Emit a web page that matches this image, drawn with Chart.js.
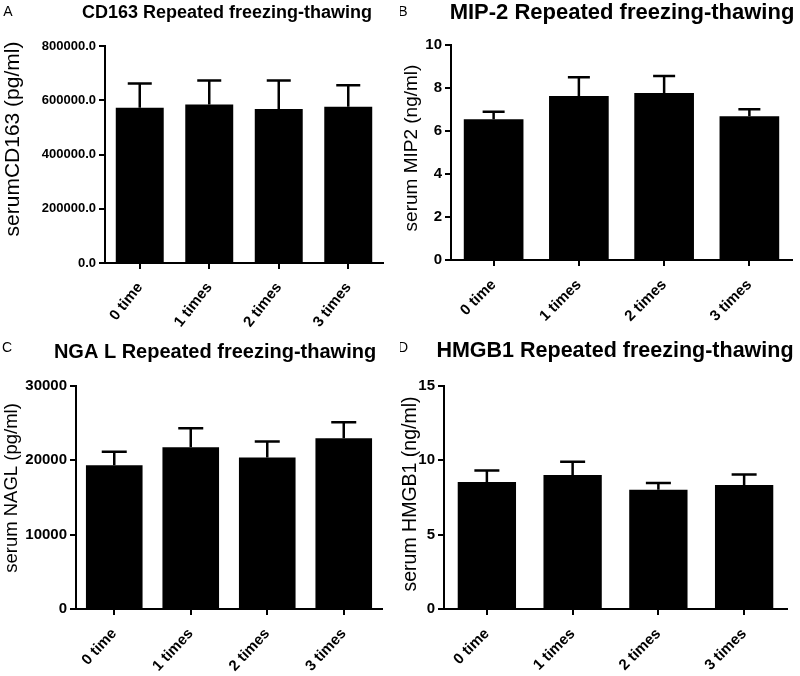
<!DOCTYPE html>
<html>
<head>
<meta charset="utf-8">
<title>Repeated freezing-thawing</title>
<script src="https://cdn.jsdelivr.net/npm/chart.js@4.4.1/dist/chart.umd.min.js"></script>
<style>
  body { margin: 0; background: #fff; }
  #wrap { position: relative; width: 800px; height: 676px; }
  .panel { position: absolute; width: 400px; height: 338px; }
</style>
</head>
<body>
<div id="wrap">
  <div class="panel" style="left:0;top:0"><canvas id="chartA" width="400" height="338"></canvas></div>
  <div class="panel" style="left:400px;top:0"><canvas id="chartB" width="400" height="338"></canvas></div>
  <div class="panel" style="left:0;top:338px"><canvas id="chartC" width="400" height="338"></canvas></div>
  <div class="panel" style="left:400px;top:338px"><canvas id="chartD" width="400" height="338"></canvas></div>
</div>
<script>
// Categories shared by all four panels
const categories = ['0 time', '1 times', '2 times', '3 times'];

// Means and upper error (SD)
const cd163Mean = [572000, 584000, 568000, 576000];
const cd163Err = [90000, 89000, 105000, 79000];

const mip2Mean = [6.55, 7.63, 7.77, 6.69];
const mip2Err = [0.35, 0.87, 0.79, 0.32];

const ngalMean = [19350, 21770, 20380, 22970];
const ngalErr = [1790, 2550, 2150, 2150];

const hmgb1Mean = [8.54, 9.02, 8.02, 8.34];
const hmgb1Err = [0.77, 0.89, 0.46, 0.70];

// Y axis ranges and tick steps
const yMax = [800000, 10, 30000, 15];
const yStep = [200000, 2, 10000, 5];

const FONT = "'Liberation Sans', Arial, Helvetica, sans-serif";

// draws the upper whisker + cap on each bar
const errorBarPlugin = {
  id: 'errorBars',
  afterDatasetsDraw(chart, args, opts) {
    const ctx = chart.ctx;
    const yScale = chart.scales.y;
    const values = chart.data.datasets[0].data;
    const meta = chart.getDatasetMeta(0);
    ctx.save();
    ctx.strokeStyle = '#000';
    ctx.lineWidth = opts.lineWidth;
    meta.data.forEach((bar, i) => {
      const top = yScale.getPixelForValue(values[i] + opts.errors[i]);
      ctx.beginPath();
      ctx.moveTo(bar.x, bar.y);
      ctx.lineTo(bar.x, top);
      ctx.moveTo(bar.x - opts.capWidth / 2, top);
      ctx.lineTo(bar.x + opts.capWidth / 2, top);
      ctx.stroke();
    });
    ctx.restore();
  }
};

// panel letter, bold title and rotated y title
const panelTextPlugin = {
  id: 'panelText',
  afterDraw(chart, args, opts) {
    const ctx = chart.ctx;
    ctx.save();
    ctx.fillStyle = '#000';
    ctx.textBaseline = 'middle';

    ctx.textAlign = 'center';
    ctx.font = '14px ' + FONT;
    ctx.fillText(opts.letter, opts.letterPos[0], opts.letterPos[1]);

    ctx.font = 'bold ' + opts.titleSize + 'px ' + FONT;
    ctx.fillText(opts.title, opts.titlePos[0], opts.titlePos[1]);

    ctx.translate(opts.yTitlePos[0], opts.yTitlePos[1]);
    ctx.rotate(-Math.PI / 2);
    ctx.font = opts.yTitleSize + 'px ' + FONT;
    ctx.fillText(opts.yTitle, 0, 0);
    ctx.restore();
  }
};

function makeChart(id, p) {
  const area = p.area;
  return new Chart(document.getElementById(id), {
    type: 'bar',
    data: {
      labels: categories,
      datasets: [{
        data: p.mean,
        backgroundColor: '#000',
        borderWidth: 0,
        barPercentage: p.barPct,
        categoryPercentage: 1
      }]
    },
    options: {
      responsive: false,
      animation: false,
      layout: {
        padding: { left: 0, top: area.t, right: 400 - area.r, bottom: 0 }
      },
      scales: {
        x: {
          offset: true,
          grid: { offset: false, drawOnChartArea: false, drawTicks: true, tickLength: 6, color: '#000', lineWidth: 2 },
          border: { display: true, color: '#000', width: 2 },
          ticks: {
            autoSkip: false,
            minRotation: p.rot,
            maxRotation: p.rot,
            padding: 10,
            color: '#000',
            font: { family: FONT, size: p.xTickSize, weight: 'bold' }
          },
          afterFit: s => { s.height = 338 - area.b; }
        },
        y: {
          min: 0,
          max: p.max,
          grid: { drawOnChartArea: false, drawTicks: true, tickLength: 6, color: '#000', lineWidth: 2 },
          border: { display: true, color: '#000', width: 2 },
          ticks: {
            stepSize: p.step,
            padding: 3,
            color: '#000',
            font: { family: FONT, size: p.tickSize, weight: 'bold' },
            callback: v => v.toFixed(p.decimals)
          },
          afterFit: s => { s.width = area.l; }
        }
      },
      plugins: {
        legend: { display: false },
        tooltip: { enabled: false },
        errorBars: { errors: p.err, capWidth: p.cap, lineWidth: 2.5 },
        panelText: {
          letter: p.letter, letterPos: p.letterPos,
          title: p.title, titlePos: p.titlePos, titleSize: p.titleSize,
          yTitle: p.yTitle, yTitlePos: p.yTitlePos, yTitleSize: p.yTitleSize
        }
      }
    },
    plugins: [errorBarPlugin, panelTextPlugin]
  });
}

makeChart('chartA', {
  mean: cd163Mean, err: cd163Err, max: yMax[0], step: yStep[0], decimals: 1,
  area: { l: 105, r: 383, t: 46, b: 263 }, barPct: 0.69, cap: 24,
  tickSize: 13, xTickSize: 15, rot: 52,
  letter: 'A', letterPos: [8, 12],
  title: 'CD163 Repeated freezing-thawing', titlePos: [227, 13], titleSize: 18,
  yTitle: 'serumCD163 (pg/ml)', yTitlePos: [13, 139], yTitleSize: 21
});

makeChart('chartB', {
  mean: mip2Mean, err: mip2Err, max: yMax[1], step: yStep[1], decimals: 0,
  area: { l: 51, r: 392, t: 45, b: 260 }, barPct: 0.7, cap: 22,
  tickSize: 15, xTickSize: 15, rot: 45,
  letter: 'B', letterPos: [3, 12],
  title: 'MIP-2 Repeated freezing-thawing', titlePos: [222, 13], titleSize: 22,
  yTitle: 'serum MIP2 (ng/ml)', yTitlePos: [12, 148], yTitleSize: 19
});

makeChart('chartC', {
  mean: ngalMean, err: ngalErr, max: yMax[2], step: yStep[2], decimals: 0,
  area: { l: 76, r: 382, t: 48, b: 271 }, barPct: 0.74, cap: 25,
  tickSize: 15, xTickSize: 15, rot: 47,
  letter: 'C', letterPos: [7, 10],
  title: 'NGA L Repeated freezing-thawing', titlePos: [215, 14], titleSize: 20,
  yTitle: 'serum NAGL (pg/ml)', yTitlePos: [12, 150], yTitleSize: 18.5
});

makeChart('chartD', {
  mean: hmgb1Mean, err: hmgb1Err, max: yMax[3], step: yStep[3], decimals: 0,
  area: { l: 44, r: 387, t: 48, b: 271 }, barPct: 0.68, cap: 25,
  tickSize: 15, xTickSize: 15, rot: 45,
  letter: 'D', letterPos: [3, 10],
  title: 'HMGB1 Repeated freezing-thawing', titlePos: [215, 13], titleSize: 21.5,
  yTitle: 'serum HMGB1 (ng/ml)', yTitlePos: [11, 156], yTitleSize: 19.5
});
</script>
</body>
</html>
